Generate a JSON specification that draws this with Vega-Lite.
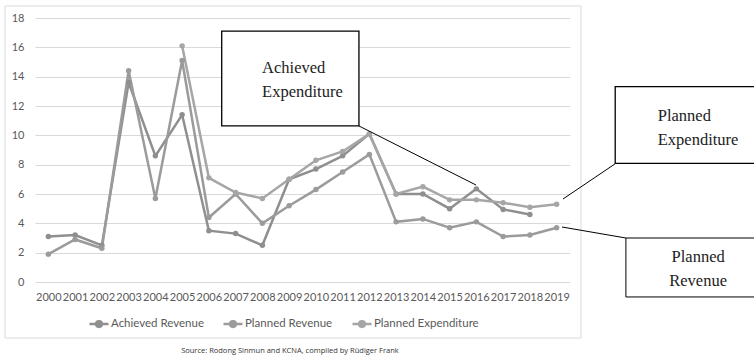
{
  "$schema": "https://vega.github.io/schema/vega-lite/v6.json",
  "autosize": {"type": "none"},
  "padding": {"left": 35, "top": 18, "right": 184, "bottom": 73},
  "width": 535,
  "height": 264,
  "background": "white",
  "config": {
    "view": {"stroke": null},
    "font": "Lato",
    "axis": {"labelFont": "Lato", "labelColor": "#595959", "labelFontSize": 11}
  },
  "resolve": {"axis": {"x": "independent", "y": "independent"}},
  "layer": [
    {
      "data": {"values": [{}]},
      "mark": {"type": "rect", "fill": "transparent", "stroke": "#d9d9d9", "strokeWidth": 1},
      "encoding": {
        "x": {"datum": 1998.38, "type": "quantitative", "axis": null},
        "x2": {"datum": 2019.91},
        "y": {"datum": 18.82, "type": "quantitative", "axis": null},
        "y2": {"datum": -3.82}
      }
    },
    {
      "data": {"values": [
        {"year": 2000, "series": "Achieved Revenue", "value": 3.1},
        {"year": 2001, "series": "Achieved Revenue", "value": 3.2},
        {"year": 2002, "series": "Achieved Revenue", "value": 2.5},
        {"year": 2003, "series": "Achieved Revenue", "value": 13.6},
        {"year": 2004, "series": "Achieved Revenue", "value": 8.6},
        {"year": 2005, "series": "Achieved Revenue", "value": 11.4},
        {"year": 2006, "series": "Achieved Revenue", "value": 3.5},
        {"year": 2007, "series": "Achieved Revenue", "value": 3.3},
        {"year": 2008, "series": "Achieved Revenue", "value": 2.5},
        {"year": 2009, "series": "Achieved Revenue", "value": 7.0},
        {"year": 2010, "series": "Achieved Revenue", "value": 7.7},
        {"year": 2011, "series": "Achieved Revenue", "value": 8.6},
        {"year": 2012, "series": "Achieved Revenue", "value": 10.1},
        {"year": 2013, "series": "Achieved Revenue", "value": 6.0},
        {"year": 2014, "series": "Achieved Revenue", "value": 6.0},
        {"year": 2015, "series": "Achieved Revenue", "value": 5.0},
        {"year": 2016, "series": "Achieved Revenue", "value": 6.35},
        {"year": 2017, "series": "Achieved Revenue", "value": 4.95},
        {"year": 2018, "series": "Achieved Revenue", "value": 4.6},
        {"year": 2000, "series": "Planned Revenue", "value": 1.9},
        {"year": 2001, "series": "Planned Revenue", "value": 2.9},
        {"year": 2002, "series": "Planned Revenue", "value": 2.3},
        {"year": 2003, "series": "Planned Revenue", "value": 14.4},
        {"year": 2004, "series": "Planned Revenue", "value": 5.7},
        {"year": 2005, "series": "Planned Revenue", "value": 15.1},
        {"year": 2006, "series": "Planned Revenue", "value": 4.4},
        {"year": 2007, "series": "Planned Revenue", "value": 6.0},
        {"year": 2008, "series": "Planned Revenue", "value": 4.0},
        {"year": 2009, "series": "Planned Revenue", "value": 5.2},
        {"year": 2010, "series": "Planned Revenue", "value": 6.3},
        {"year": 2011, "series": "Planned Revenue", "value": 7.5},
        {"year": 2012, "series": "Planned Revenue", "value": 8.7},
        {"year": 2013, "series": "Planned Revenue", "value": 4.1},
        {"year": 2014, "series": "Planned Revenue", "value": 4.3},
        {"year": 2015, "series": "Planned Revenue", "value": 3.7},
        {"year": 2016, "series": "Planned Revenue", "value": 4.1},
        {"year": 2017, "series": "Planned Revenue", "value": 3.1},
        {"year": 2018, "series": "Planned Revenue", "value": 3.2},
        {"year": 2019, "series": "Planned Revenue", "value": 3.7},
        {"year": 2005, "series": "Planned Expenditure", "value": 16.1},
        {"year": 2006, "series": "Planned Expenditure", "value": 7.1},
        {"year": 2007, "series": "Planned Expenditure", "value": 6.1},
        {"year": 2008, "series": "Planned Expenditure", "value": 5.7},
        {"year": 2009, "series": "Planned Expenditure", "value": 7.0},
        {"year": 2010, "series": "Planned Expenditure", "value": 8.3},
        {"year": 2011, "series": "Planned Expenditure", "value": 8.9},
        {"year": 2012, "series": "Planned Expenditure", "value": 10.1},
        {"year": 2013, "series": "Planned Expenditure", "value": 6.0},
        {"year": 2014, "series": "Planned Expenditure", "value": 6.5},
        {"year": 2015, "series": "Planned Expenditure", "value": 5.6},
        {"year": 2016, "series": "Planned Expenditure", "value": 5.6},
        {"year": 2017, "series": "Planned Expenditure", "value": 5.4},
        {"year": 2018, "series": "Planned Expenditure", "value": 5.1},
        {"year": 2019, "series": "Planned Expenditure", "value": 5.3}
      ]},
      "mark": {"type": "line", "strokeWidth": 2.5, "point": {"filled": true, "size": 30}},
      "encoding": {
        "x": {
          "field": "year", "type": "quantitative",
          "scale": {"domain": [1999.5, 2019.5], "nice": false, "zero": false},
          "axis": {"title": null, "values": [2000,2001,2002,2003,2004,2005,2006,2007,2008,2009,2010,2011,2012,2013,2014,2015,2016,2017,2018,2019], "format": "d", "grid": false, "domain": false, "ticks": false, "labelPadding": 9, "labelOverlap": false, "labelFlush": false}
        },
        "y": {
          "field": "value", "type": "quantitative",
          "scale": {"domain": [0, 18], "nice": false},
          "axis": {"title": null, "values": [0,2,4,6,8,10,12,14,16,18], "grid": true, "gridColor": "#d9d9d9", "gridWidth": 1, "domain": false, "ticks": false, "labelPadding": 11, "labelOverlap": false}
        },
        "color": {
          "field": "series", "type": "nominal",
          "scale": {"domain": ["Achieved Revenue", "Planned Revenue", "Planned Expenditure"], "range": ["#8f8f8f", "#9b9b9b", "#a6a6a6"]},
          "legend": {
            "title": null, "orient": "none", "direction": "horizontal", "legendX": 53, "legendY": 295,
            "symbolType": "M-1,0L1,0M-0.3,0A0.3,0.3,0,1,0,0.3,0A0.3,0.3,0,1,0,-0.3,0Z",
            "symbolSize": 361, "symbolStrokeWidth": 2.5, "symbolFillColor": "#999999",
            "labelFont": "Lato", "labelFontSize": 11.5, "labelColor": "#595959", "labelOffset": 1, "columnPadding": 14
          }
        }
      }
    },
    {
      "data": {"values": [{}]},
      "mark": {"type": "rule", "color": "black", "strokeWidth": 1},
      "encoding": {
        "x": {"datum": 2011.61, "type": "quantitative", "axis": null},
        "y": {"datum": 10.64, "type": "quantitative", "axis": null},
        "x2": {"datum": 2015.99},
        "y2": {"datum": 6.61}
      }
    },
    {
      "data": {"values": [{}]},
      "mark": {"type": "rule", "color": "black", "strokeWidth": 1},
      "encoding": {
        "x": {"datum": 2021.18, "type": "quantitative", "axis": null},
        "y": {"datum": 8.05, "type": "quantitative", "axis": null},
        "x2": {"datum": 2019.24},
        "y2": {"datum": 5.66}
      }
    },
    {
      "data": {"values": [{}]},
      "mark": {"type": "rule", "color": "black", "strokeWidth": 1},
      "encoding": {
        "x": {"datum": 2021.59, "type": "quantitative", "axis": null},
        "y": {"datum": 3.0, "type": "quantitative", "axis": null},
        "x2": {"datum": 2019.2},
        "y2": {"datum": 3.75}
      }
    },
    {
      "data": {"values": [{}]},
      "mark": {"type": "rect", "fill": "white", "stroke": "black", "strokeWidth": 1.3},
      "encoding": {
        "x": {"datum": 2006.48, "type": "quantitative", "axis": null},
        "x2": {"datum": 2011.61},
        "y": {"datum": 17.11, "type": "quantitative", "axis": null},
        "y2": {"datum": 10.64}
      }
    },
    {
      "data": {"values": [{}]},
      "mark": {"type": "rect", "fill": "white", "stroke": "black", "strokeWidth": 1.3},
      "encoding": {
        "x": {"datum": 2021.19, "type": "quantitative", "axis": null},
        "x2": {"datum": 2026.6},
        "y": {"datum": 13.32, "type": "quantitative", "axis": null},
        "y2": {"datum": 8.09}
      }
    },
    {
      "data": {"values": [{}]},
      "mark": {"type": "rect", "fill": "white", "stroke": "black", "strokeWidth": 1},
      "encoding": {
        "x": {"datum": 2021.59, "type": "quantitative", "axis": null},
        "x2": {"datum": 2026.6},
        "y": {"datum": 3.0, "type": "quantitative", "axis": null},
        "y2": {"datum": -1.02}
      }
    },
    {
      "data": {"values": [{}]},
      "mark": {"type": "text", "text": ["Achieved", "Expenditure"], "font": "Liberation Serif", "fontSize": 16.5, "lineHeight": 24, "align": "left", "baseline": "alphabetic", "color": "#222222"},
      "encoding": {
        "x": {"datum": 2007.99, "type": "quantitative", "axis": null},
        "y": {"datum": 14.25, "type": "quantitative", "axis": null}
      }
    },
    {
      "data": {"values": [{}]},
      "mark": {"type": "text", "text": ["Planned", "Expenditure"], "font": "Liberation Serif", "fontSize": 16.5, "lineHeight": 24, "align": "left", "baseline": "alphabetic", "color": "#222222"},
      "encoding": {
        "x": {"datum": 2022.78, "type": "quantitative", "axis": null},
        "y": {"datum": 11.0, "type": "quantitative", "axis": null}
      }
    },
    {
      "data": {"values": [{}]},
      "mark": {"type": "text", "text": ["Planned", "Revenue"], "font": "Liberation Serif", "fontSize": 16.5, "lineHeight": 24, "align": "center", "baseline": "alphabetic", "color": "#222222"},
      "encoding": {
        "x": {"datum": 2024.29, "type": "quantitative", "axis": null},
        "y": {"datum": 1.38, "type": "quantitative", "axis": null}
      }
    },
    {
      "data": {"values": [{}]},
      "mark": {"type": "text", "text": "Source: Rodong Sinmun and KCNA, compiled by Rüdiger Frank", "font": "Open Sans", "fontSize": 7.5, "align": "center", "baseline": "middle", "color": "#333333"},
      "encoding": {
        "x": {"datum": 2009.03, "type": "quantitative", "axis": null},
        "y": {"datum": -4.7, "type": "quantitative", "axis": null}
      }
    }
  ]
}
